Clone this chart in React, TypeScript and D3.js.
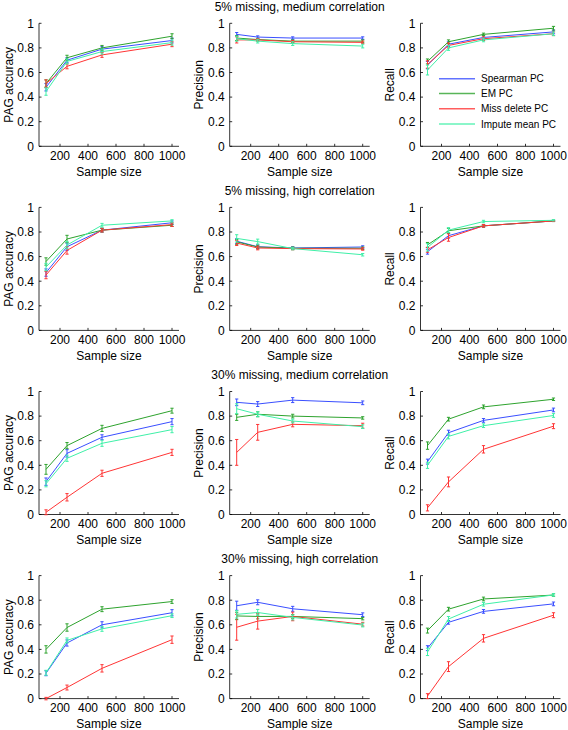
import React from "react";
import * as d3 from "d3";

// ---------- data ----------
const seriesNames = ["Spearman PC", "EM PC", "Miss delete PC", "Impute mean PC"];
const sampleSizes = [100, 250, 500, 1000];
const xTicks = [200, 400, 600, 800, 1000];
const yTicks = [0, 0.2, 0.4, 0.6, 0.8, 1];
const rowTitles = [
  "5% missing, medium correlation",
  "5% missing, high correlation",
  "30% missing, medium correlation",
  "30% missing, high correlation",
];
const metricLabels = ["PAG accuracy", "Precision", "Recall"];

// series order: Spearman, EM, Miss delete, Impute mean
const r1Accuracy = [[0.48, 0.70, 0.79, 0.86], [0.51, 0.72, 0.80, 0.895], [0.51, 0.65, 0.743, 0.83], [0.445, 0.69, 0.77, 0.843]];
const r1AccuracyErr = [[0.03, 0.02, 0.02, 0.02], [0.03, 0.02, 0.02, 0.02], [0.03, 0.02, 0.02, 0.02], [0.03, 0.02, 0.02, 0.02]];
const r1Precision = [[0.91, 0.888, 0.88, 0.88], [0.88, 0.868, 0.855, 0.855], [0.865, 0.865, 0.85, 0.845], [0.875, 0.855, 0.835, 0.815]];
const r1PrecisionErr = [[0.015, 0.01, 0.01, 0.01], [0.02, 0.01, 0.01, 0.01], [0.025, 0.01, 0.01, 0.01], [0.02, 0.015, 0.015, 0.015]];
const r1Recall = [[0.66, 0.83, 0.885, 0.93], [0.69, 0.85, 0.91, 0.96], [0.665, 0.82, 0.875, 0.915], [0.62, 0.80, 0.865, 0.915]];
const r1RecallErr = [[0.03, 0.02, 0.015, 0.015], [0.02, 0.015, 0.01, 0.015], [0.03, 0.02, 0.015, 0.015], [0.04, 0.02, 0.015, 0.015]];

const r2Accuracy = [[0.47, 0.68, 0.815, 0.875], [0.56, 0.743, 0.815, 0.855], [0.45, 0.65, 0.815, 0.86], [0.515, 0.694, 0.855, 0.89]];
const r2AccuracyErr = [[0.03, 0.03, 0.015, 0.015], [0.03, 0.03, 0.015, 0.01], [0.03, 0.03, 0.015, 0.015], [0.03, 0.03, 0.015, 0.01]];
const r2Precision = [[0.725, 0.68, 0.67, 0.678], [0.72, 0.678, 0.668, 0.668], [0.71, 0.67, 0.665, 0.662], [0.748, 0.722, 0.665, 0.615]];
const r2PrecisionErr = [[0.02, 0.015, 0.01, 0.01], [0.02, 0.015, 0.01, 0.01], [0.02, 0.015, 0.01, 0.01], [0.03, 0.02, 0.01, 0.01]];
const r2Recall = [[0.64, 0.77, 0.85, 0.89], [0.695, 0.81, 0.85, 0.89], [0.655, 0.755, 0.85, 0.89], [0.675, 0.815, 0.885, 0.895]];
const r2RecallErr = [[0.02, 0.02, 0.01, 0.005], [0.02, 0.02, 0.01, 0.005], [0.02, 0.03, 0.01, 0.005], [0.03, 0.02, 0.01, 0.005]];

const r3Accuracy = [[0.267, 0.497, 0.628, 0.755], [0.367, 0.56, 0.70, 0.844], [0.018, 0.14, 0.335, 0.505], [0.25, 0.457, 0.579, 0.69]];
const r3AccuracyErr = [[0.03, 0.03, 0.02, 0.025], [0.04, 0.025, 0.025, 0.02], [0.02, 0.03, 0.025, 0.025], [0.025, 0.025, 0.025, 0.025]];
const r3Precision = [[0.912, 0.898, 0.93, 0.908], [0.79, 0.815, 0.80, 0.785], [0.505, 0.668, 0.733, 0.722], [0.86, 0.815, 0.76, 0.714]];
const r3PrecisionErr = [[0.027, 0.02, 0.02, 0.015], [0.025, 0.02, 0.015, 0.01], [0.105, 0.064, 0.02, 0.02], [0.04, 0.02, 0.015, 0.015]];
const r3Recall = [[0.43, 0.665, 0.765, 0.85], [0.56, 0.775, 0.875, 0.937], [0.054, 0.265, 0.53, 0.718], [0.40, 0.635, 0.722, 0.805]];
const r3RecallErr = [[0.02, 0.02, 0.015, 0.015], [0.03, 0.015, 0.015, 0.01], [0.025, 0.04, 0.03, 0.02], [0.025, 0.02, 0.015, 0.015]];

const r4Accuracy = [[0.206, 0.452, 0.60, 0.698], [0.40, 0.578, 0.727, 0.789], [0.0, 0.09, 0.246, 0.479], [0.21, 0.473, 0.567, 0.674]];
const r4AccuracyErr = [[0.02, 0.025, 0.025, 0.025], [0.03, 0.03, 0.02, 0.015], [0.01, 0.02, 0.03, 0.03], [0.02, 0.02, 0.02, 0.015]];
const r4Precision = [[0.755, 0.783, 0.73, 0.682], [0.672, 0.668, 0.668, 0.65], [0.58, 0.63, 0.668, 0.605], [0.685, 0.70, 0.66, 0.598]];
const r4PrecisionErr = [[0.037, 0.02, 0.02, 0.015], [0.03, 0.02, 0.015, 0.01], [0.105, 0.065, 0.035, 0.015], [0.03, 0.025, 0.02, 0.015]];
const r4Recall = [[0.41, 0.62, 0.709, 0.77], [0.553, 0.727, 0.81, 0.842], [0.02, 0.26, 0.49, 0.678], [0.38, 0.647, 0.767, 0.843]];
const r4RecallErr = [[0.02, 0.015, 0.015, 0.015], [0.02, 0.015, 0.015, 0.01], [0.02, 0.04, 0.03, 0.02], [0.03, 0.02, 0.015, 0.01]];

const panelMeans = [
  [r1Accuracy, r1Precision, r1Recall],
  [r2Accuracy, r2Precision, r2Recall],
  [r3Accuracy, r3Precision, r3Recall],
  [r4Accuracy, r4Precision, r4Recall],
];
const panelErrs = [
  [r1AccuracyErr, r1PrecisionErr, r1RecallErr],
  [r2AccuracyErr, r2PrecisionErr, r2RecallErr],
  [r3AccuracyErr, r3PrecisionErr, r3RecallErr],
  [r4AccuracyErr, r4PrecisionErr, r4RecallErr],
];

// ---------- styles / layout ----------
const COLORS = ["#3a4fff", "#2ea32e", "#ff3535", "#3ff0a8"];
const FONT = "'Liberation Sans', Arial, Helvetica, sans-serif";
const W = 568;
const H = 730;
const colLeft = [39, 229.7, 420.5];
const panelW = 140;
const rowTop = [23.3, 207.4, 391.5, 575.6];
const panelH = 123;
const TICK = 2.5;

function Panel({ left, top, means, errs, ylabel }) {
  const x = d3.scaleLinear().domain([50, 1050]).range([left, left + panelW]);
  const y = d3.scaleLinear().domain([0, 1]).range([top + panelH, top]);
  const line = d3
    .line<number>()
    .x((_, i) => x(sampleSizes[i]))
    .y((d) => y(d));
  const x0 = x(50);
  const y0 = y(0);
  return (
    <g>
      {/* axes */}
      <line x1={x0} x2={x(1050)} y1={y0} y2={y0} stroke="#000" strokeWidth={0.8} />
      <line x1={x0} x2={x0} y1={y0} y2={y(1)} stroke="#000" strokeWidth={0.8} />
      {xTicks.map((t) => (
        <g key={"x" + t}>
          <line x1={x(t)} x2={x(t)} y1={y0} y2={y0 - TICK} stroke="#000" strokeWidth={0.8} />
          <text x={x(t)} y={y0 + 13.5} textAnchor="middle" fontSize={12} fontFamily={FONT}>
            {t}
          </text>
        </g>
      ))}
      {yTicks.map((t) => (
        <g key={"y" + t}>
          <line x1={x0} x2={x0 + TICK} y1={y(t)} y2={y(t)} stroke="#000" strokeWidth={0.8} />
          <text x={x0 - 5} y={y(t) + 4.3} textAnchor="end" fontSize={12} fontFamily={FONT}>
            {d3.format("~g")(t)}
          </text>
        </g>
      ))}
      <text x={(x0 + x(1050)) / 2} y={y0 + 29.5} textAnchor="middle" fontSize={12} fontFamily={FONT}>
        Sample size
      </text>
      <text
        transform={`translate(${x0 - 26.5},${(y0 + y(1)) / 2}) rotate(-90)`}
        textAnchor="middle"
        fontSize={12}
        fontFamily={FONT}
      >
        {ylabel}
      </text>
      {/* series */}
      {means.map((vals, s) => (
        <g key={"s" + s} stroke={COLORS[s]} fill="none" strokeWidth={1}>
          <path d={line(vals) || ""} />
          {vals.map((v, i) => {
            const e = errs[s][i];
            const cx = x(sampleSizes[i]);
            return (
              <g key={i}>
                <line x1={cx} x2={cx} y1={y(v - e)} y2={y(v + e)} />
                <line x1={cx - 1.6} x2={cx + 1.6} y1={y(v - e)} y2={y(v - e)} />
                <line x1={cx - 1.6} x2={cx + 1.6} y1={y(v + e)} y2={y(v + e)} />
              </g>
            );
          })}
        </g>
      ))}
    </g>
  );
}

export default function App() {
  const legendY = [78.7, 93.5, 108.7, 124];
  return (
    <svg
      width={W}
      height={H}
      style={{ position: "absolute", left: 0, top: 0, background: "#fff" }}
    >
      <rect x={0} y={0} width={W} height={H} fill="#fff" />
      {rowTitles.map((title, r) => (
        <g key={"row" + r}>
          <text
            x={colLeft[1] + panelW / 2}
            y={rowTop[r] - 12.5}
            textAnchor="middle"
            fontSize={12}
            fontFamily={FONT}
          >
            {title}
          </text>
          {metricLabels.map((m, c) => (
            <Panel
              key={m}
              left={colLeft[c]}
              top={rowTop[r]}
              means={panelMeans[r][c]}
              errs={panelErrs[r][c]}
              ylabel={m}
            />
          ))}
        </g>
      ))}
      {/* legend */}
      {seriesNames.map((name, i) => (
        <g key={name}>
          <line
            x1={439}
            x2={475}
            y1={legendY[i]}
            y2={legendY[i]}
            stroke={COLORS[i]}
            strokeWidth={1.6}
            strokeOpacity={0.8}
          />
          <text x={481} y={legendY[i] + 3.5} fontSize={10} fontFamily={FONT}>
            {name}
          </text>
        </g>
      ))}
    </svg>
  );
}
